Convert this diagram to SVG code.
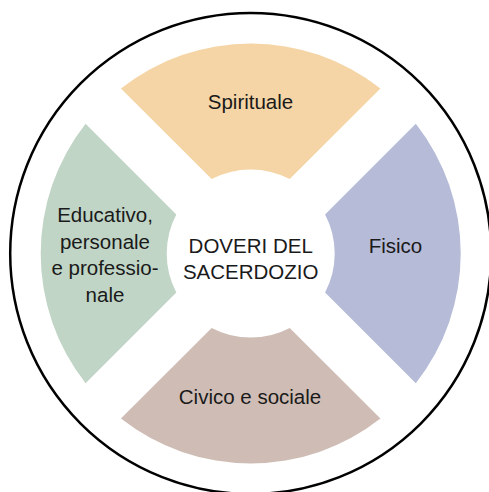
<svg xmlns="http://www.w3.org/2000/svg" width="489" height="492" viewBox="0 0 489 492">
<style>
.lbl{font-family:"Liberation Sans",Arial,sans-serif;font-size:20.5px;fill:#1a1a1a;text-anchor:middle}
.sec{stroke:none}
</style>
<defs>
<path id="sector" d="M -129.76 -165.12 A 210 210 0 0 1 129.76 -165.12 L 39.03 -74.38 A 84 84 0 0 0 -39.03 -74.38 Z"/>
</defs>
<rect width="489" height="492" fill="#ffffff"/>
<g id="outer">
<circle cx="250.7" cy="253.5" r="240.5" fill="none" stroke="#000" stroke-width="2.5"/>
</g>
<g id="connectors"></g>
<g id="spirituale">
<use href="#sector" transform="translate(250.7 253.5)" fill="#F5D5A6"/>
<text class="lbl" x="250.5" y="109.3">Spirituale</text>
</g>
<g id="fisico">
<use href="#sector" transform="translate(250.7 253.5) rotate(90)" fill="#B6BBD8"/>
<text class="lbl" x="395.5" y="253.3">Fisico</text>
</g>
<g id="civico">
<use href="#sector" transform="translate(250.7 253.5) rotate(180)" fill="#CFBDB5"/>
<text class="lbl" x="250" y="404.3">Civico e sociale</text>
</g>
<g id="educativo">
<use href="#sector" transform="translate(250.7 253.5) rotate(270)" fill="#C0D5C6"/>
<text class="lbl" x="105" y="222.3">Educativo,</text>
<text class="lbl" x="105" y="248.6">personale</text>
<text class="lbl" x="105" y="275">e professio-</text>
<text class="lbl" x="105" y="301.5">nale</text>
</g>
<g id="centro">
<text class="lbl" x="250.7" y="253.3">DOVERI DEL</text>
<text class="lbl" x="250.7" y="279.3">SACERDOZIO</text>
</g>
</svg>
